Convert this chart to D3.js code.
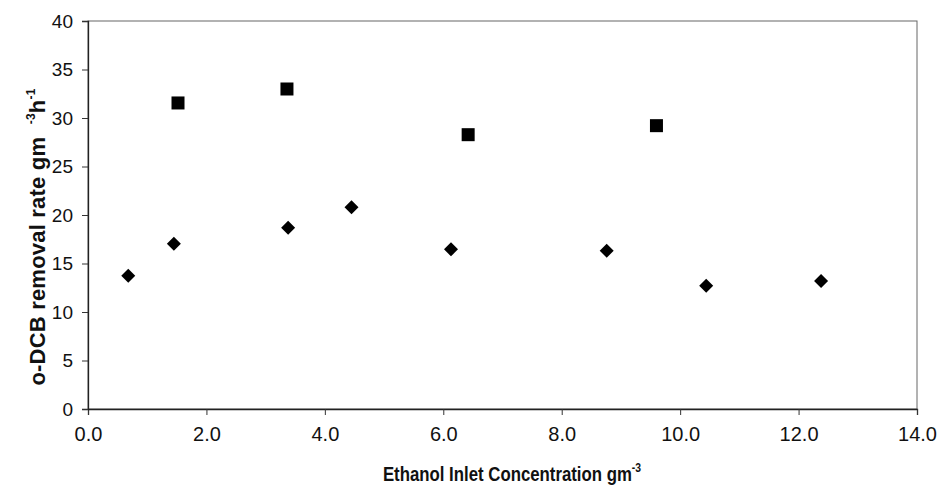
<!DOCTYPE html>
<html><head><meta charset="utf-8">
<script src="https://cdn.jsdelivr.net/npm/d3@7"></script>
<style>body{margin:0;background:#fff}svg{display:block}</style>
</head><body>
<svg id="c" width="941" height="498"></svg>
<script>
const diamondX = [0.68, 1.45, 3.38, 4.45, 6.13, 8.76, 10.44, 12.38];
const diamondY = [13.74, 17.04, 18.69, 20.79, 16.46, 16.32, 12.71, 13.20];
const squareX = [1.52, 3.36, 6.42, 9.60];
const squareY = [31.55, 32.99, 28.28, 29.21];
const xTicks = [0, 2, 4, 6, 8, 10, 12, 14];
const yTicks = [0, 5, 10, 15, 20, 25, 30, 35, 40];

const svg = d3.select("#c");
const L = 88, R = 917, T = 21, B = 409;
const x = d3.scaleLinear().domain([0, 14]).range([L, R]);
const y = d3.scaleLinear().domain([0, 40]).range([B, T]);
const font = "'Liberation Sans', Arial, sans-serif";

// frame
svg.append("rect").attr("x", L).attr("y", T).attr("width", R - L).attr("height", B - T)
  .attr("fill", "none").attr("stroke", "#666").attr("stroke-width", 1);

const xa = svg.append("g").attr("transform", `translate(0,${B})`)
  .call(d3.axisBottom(x).tickValues(xTicks).tickFormat(d3.format(".1f")).tickSize(6).tickPadding(12));
const ya = svg.append("g").attr("transform", `translate(${L},0)`)
  .call(d3.axisLeft(y).tickValues(yTicks).tickSize(6).tickPadding(9));
[xa, ya].forEach(g => {
  g.select(".domain").attr("stroke", "#222").attr("stroke-width", 1.3);
  g.selectAll(".tick line").attr("stroke", "#333");
  g.selectAll(".tick text").attr("font-family", font).attr("fill", "#111");
});
xa.selectAll(".tick text").attr("font-size", 20);
ya.selectAll(".tick text").attr("font-size", 19);

// diamonds
svg.append("g").selectAll("path").data(diamondX.map((d, i) => [d, diamondY[i]])).join("path")
  .attr("transform", d => `translate(${x(d[0])},${y(d[1])})`)
  .attr("d", "M0,-7L7,0L0,7L-7,0Z").attr("fill", "#000");

// squares
svg.append("g").selectAll("rect").data(squareX.map((d, i) => [d, squareY[i]])).join("rect")
  .attr("x", d => x(d[0]) - 6.5).attr("y", d => y(d[1]) - 6.5)
  .attr("width", 13).attr("height", 13).attr("fill", "#000");

// x title (narrow bold)
const xt = svg.append("text").attr("transform", `translate(512,481) scale(0.8,1)`)
  .attr("text-anchor", "middle").attr("font-family", font)
  .attr("font-weight", "bold").attr("font-size", 21).attr("fill", "#111");
xt.append("tspan").text("Ethanol Inlet Concentration gm");
xt.append("tspan").attr("font-size", 13).attr("dy", -9).text("-3");

// y title
const yt = svg.append("text").attr("transform", `translate(45,237) rotate(-90)`)
  .attr("text-anchor", "middle").attr("font-family", font).attr("letter-spacing", 0.2)
  .attr("font-weight", "bold").attr("font-size", 22).attr("fill", "#111");
yt.append("tspan").text("o-DCB removal rate gm\u00A0\u00A0");
yt.append("tspan").attr("font-size", 12).attr("dy", -10).text("-3");
yt.append("tspan").attr("dy", 10).text("h");
yt.append("tspan").attr("font-size", 12).attr("dy", -10).text("-1");
</script>
</body></html>
